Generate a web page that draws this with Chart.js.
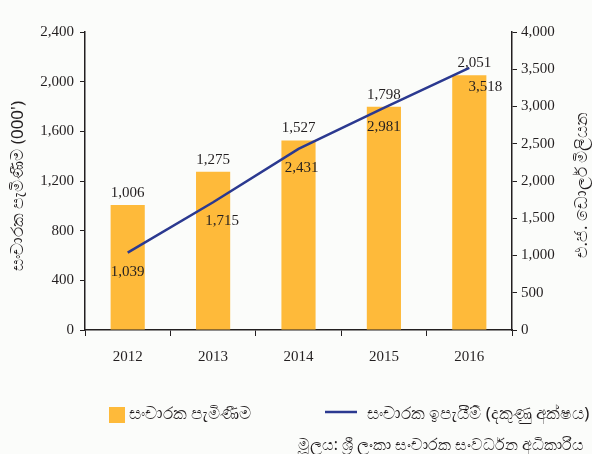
<!DOCTYPE html>
<html>
<head>
<meta charset="utf-8">
<script src="https://cdn.jsdelivr.net/npm/chart.js@4"></script>
<style>
	html, body { margin: 0; padding: 0; background: #fbfcfa; }
	#wrap { width: 592px; height: 454px; position: relative; }
</style>
</head>
<body>
<div id="wrap"><canvas id="chart" width="592" height="454"></canvas></div>
<script>
const years = ["2012", "2013", "2014", "2015", "2016"]
const arrivals = [1006, 1275, 1527, 1798, 2051]
const earnings = [1039, 1715, 2431, 2981, 3518]
const leftTicks = [0, 400, 800, 1200, 1600, 2000, 2400]
const rightTicks = [0, 500, 1000, 1500, 2000, 2500, 3000, 3500, 4000]

const arrivalsLabel = "සංචාරක පැමිණීම"
const earningsLabel = "සංචාරක ඉපැයීම් (දකුණු අක්ෂය)"
const leftTitle = "සංචාරක පැමිණීම (000')"
const rightTitle = "එ.ජ. ඩොලර් මිලියන"
const sourceText = "මූලය: ශ්‍රී ලංකා සංචාරක සංවර්ධන අධිකාරිය"

const barColor = "#feba3a"
const lineColor = "#2b3990"
const inkColor = "#231f20"
const numFont = "15px 'Liberation Serif', 'DejaVu Serif', serif"
const sinFamily = "'Noto Sans', 'DejaVu Sans', sans-serif"

const fmt = (v) => v.toLocaleString("en-US")

// line value labels sit under the point, nudged a little sideways
const lineLabelDx = [0, 9, 3, 0, 16]

const extrasPlugin = {
	id: "extras",
	afterDatasetsDraw(chart) {
		const ctx = chart.ctx
		ctx.save()
		ctx.fillStyle = inkColor
		ctx.font = numFont
		ctx.textAlign = "center"
		ctx.textBaseline = "middle"

		chart.getDatasetMeta(0).data.forEach((bar, i) => {
			ctx.fillText(fmt(arrivals[i]), bar.x + (i === 4 ? 5 : 0), bar.y - 12)
		})
		chart.getDatasetMeta(1).data.forEach((pt, i) => {
			ctx.fillText(fmt(earnings[i]), pt.x + lineLabelDx[i], pt.y + 19)
		})

		// axis titles
		ctx.font = "17px " + sinFamily
		ctx.save()
		ctx.translate(18, 186)
		ctx.rotate(-Math.PI / 2)
		ctx.fillText(leftTitle, 0, 0)
		ctx.restore()
		ctx.save()
		ctx.translate(582, 185)
		ctx.rotate(-Math.PI / 2)
		ctx.fillText(rightTitle, 0, 0)
		ctx.restore()

		// legend
		ctx.fillStyle = barColor
		ctx.fillRect(109, 407, 16, 16)
		ctx.strokeStyle = lineColor
		ctx.lineWidth = 2.5
		ctx.beginPath()
		ctx.moveTo(325, 412)
		ctx.lineTo(357, 412)
		ctx.stroke()
		ctx.fillStyle = inkColor
		ctx.textAlign = "left"
		ctx.font = "17px " + sinFamily
		ctx.fillText(arrivalsLabel, 129, 414)
		ctx.fillText(earningsLabel, 367, 414)

		ctx.font = "15.5px " + sinFamily
		ctx.textAlign = "right"
		ctx.fillText(sourceText, 584, 446)
		ctx.restore()
	},
}

new Chart(document.getElementById("chart"), {
	data: {
		labels: years,
		datasets: [
			{
				type: "bar",
				label: arrivalsLabel,
				data: arrivals,
				backgroundColor: barColor,
				yAxisID: "y",
				categoryPercentage: 0.4,
				barPercentage: 1,
				order: 2,
			},
			{
				type: "line",
				label: earningsLabel,
				data: earnings,
				borderColor: lineColor,
				borderWidth: 2.5,
				pointRadius: 0,
				tension: 0,
				yAxisID: "y1",
				order: 1,
			},
		],
	},
	options: {
		responsive: false,
		animation: false,
		layout: { padding: { top: 32, left: 0, right: 0, bottom: 0 } },
		plugins: { legend: { display: false }, tooltip: { enabled: false } },
		scales: {
			x: {
				grid: { drawOnChartArea: false, tickLength: 6, tickColor: inkColor, offset: true },
				border: { color: inkColor, width: 1.5 },
				ticks: { color: inkColor, font: { family: "'Liberation Serif', serif", size: 15 }, padding: 12 },
				afterFit(scale) { scale.height = 124 },
			},
			y: {
				position: "left",
				min: 0,
				max: 2400,
				afterBuildTicks(scale) { scale.ticks = leftTicks.map((v) => ({ value: v })) },
				grid: { drawOnChartArea: false, tickLength: 5, tickColor: inkColor },
				border: { color: inkColor, width: 1.5 },
				ticks: { color: inkColor, font: { family: "'Liberation Serif', serif", size: 15 }, padding: 6, callback: (v) => fmt(v) },
				afterFit(scale) { scale.width = 85 },
			},
			y1: {
				position: "right",
				min: 0,
				max: 4000,
				afterBuildTicks(scale) { scale.ticks = rightTicks.map((v) => ({ value: v })) },
				grid: { drawOnChartArea: false, tickLength: 5, tickColor: inkColor },
				border: { color: inkColor, width: 1.5 },
				ticks: { color: inkColor, font: { family: "'Liberation Serif', serif", size: 15 }, padding: 4, callback: (v) => fmt(v) },
				afterFit(scale) { scale.width = 80 },
			},
		},
	},
	plugins: [extrasPlugin],
})
</script>
</body>
</html>
